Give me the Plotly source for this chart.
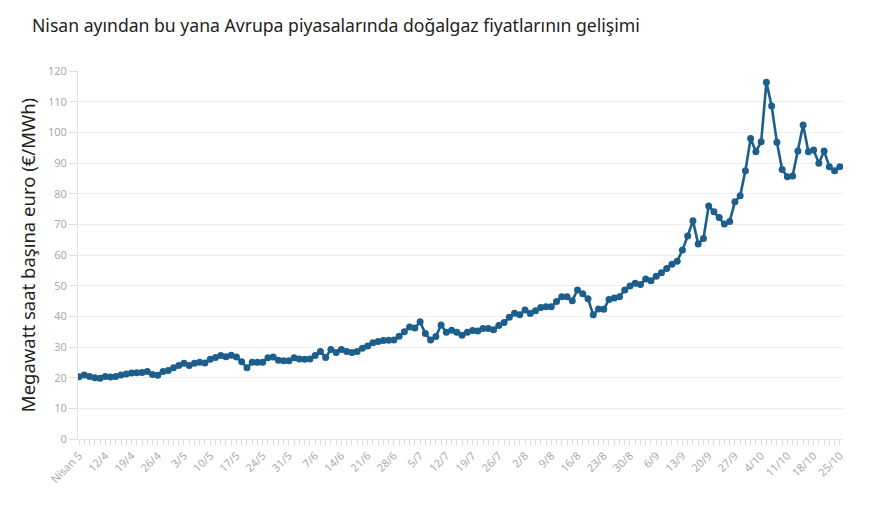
import pandas as pd
import plotly.graph_objects as go

# Business-day dates (Apr 5 -> Oct 25)
dates = pd.bdate_range("2021-04-05", "2021-10-25")
categories = [f"{d.day}/{d.month}" for d in dates]
categories[0] = "Nisan 5"

prices = [
    20.3, 20.9, 20.4, 20.0, 19.8, 20.4, 20.2, 20.4, 20.9, 21.2,
    21.5, 21.6, 21.7, 22.0, 21.0, 20.8, 22.0, 22.3, 23.2, 24.0,
    24.7, 24.0, 24.7, 25.0, 24.8, 26.0, 26.6, 27.2, 26.8, 27.3,
    26.7, 25.2, 23.2, 25.0, 25.0, 25.0, 26.5, 26.7, 25.7, 25.5,
    25.5, 26.5, 26.1, 26.0, 26.1, 27.2, 28.5, 26.6, 29.2, 28.2,
    29.2, 28.5, 28.2, 28.5, 29.6, 30.3, 31.4, 31.8, 32.1, 32.2,
    32.3, 33.5, 35.0, 36.5, 36.2, 38.2, 34.4, 32.3, 33.4, 37.2,
    34.8, 35.5, 34.8, 33.8, 34.8, 35.4, 35.2, 36.0, 36.0, 35.6,
    37.0, 38.0, 39.7, 41.0, 40.5, 42.1, 40.9, 41.8, 42.9, 43.1,
    43.1, 44.8, 46.4, 46.4, 45.1, 48.6, 47.4, 45.7, 40.5, 42.4,
    42.3, 45.5, 46.0, 46.4, 48.6, 49.9, 50.8, 50.4, 52.2, 51.6,
    53.1, 54.2, 55.6, 57.0, 58.0, 61.6, 66.2, 71.2, 63.6, 65.4,
    76.0, 74.1, 72.2, 70.1, 70.9, 77.4, 79.3, 87.5, 98.0, 93.7,
    96.9, 116.3, 108.6, 96.8, 87.9, 85.5, 85.8, 93.9, 102.4, 93.7,
    94.2, 89.9, 93.9, 88.8, 87.5, 88.8,
]

title_text = "Nisan ayından bu yana Avrupa piyasalarında doğalgaz fiyatlarının gelişimi"
y_title = "Megawatt saat başına euro (€/MWh)"
y_ticks = list(range(0, 121, 10))

idx = list(range(len(categories)))
tick_text = [c if i % 5 == 0 else "" for i, c in enumerate(categories)]

W, H = 872, 505  # page body has an 8px default margin

fig = go.Figure()
fig.add_trace(go.Scatter(
    x=idx, y=prices, mode="lines+markers",
    line=dict(color="#1c5f8c", width=2.6),
    marker=dict(color="#1c5f8c", size=7),
    text=categories, hovertemplate="%{text}: %{y}<extra></extra>",
))

fig.update_layout(
    width=W, height=H,
    paper_bgcolor="white", plot_bgcolor="white",
    margin=dict(l=70, r=37, t=63, b=74, autoexpand=False),
    font=dict(family="Noto Sans", color="#aaaaaa", size=11),
    showlegend=False,
    title=dict(text=title_text, x=24/W, xanchor="left", xref="container",
               y=1-18/H, yanchor="middle", yref="container",
               font=dict(size=17.6, color="#222222", family="Noto Sans")),
    xaxis=dict(
        range=[-0.2, 145.6], automargin=False,
        tickmode="array", tickvals=idx, ticktext=tick_text,
        tickangle=-45, ticks="outside", ticklen=5, tickcolor="#dddddd",
        showgrid=False, zeroline=False,
        showline=True, linecolor="#e6e6e6", linewidth=1,
        tickfont=dict(size=11, color="#aaaaaa"),
    ),
    yaxis=dict(
        range=[0, 120], tickvals=y_ticks, automargin=False,
        ticks="outside", ticklen=8, tickcolor="#dddddd",
        showgrid=True, gridcolor="#eeeeee", gridwidth=1,
        zeroline=False, showline=True, linecolor="#e0e0e0", linewidth=1,
        tickfont=dict(size=11, color="#aaaaaa"),
        title=dict(text=y_title, font=dict(size=18.5, color="#222222"), standoff=7),
    ),
)

fig.write_html("out.html")
